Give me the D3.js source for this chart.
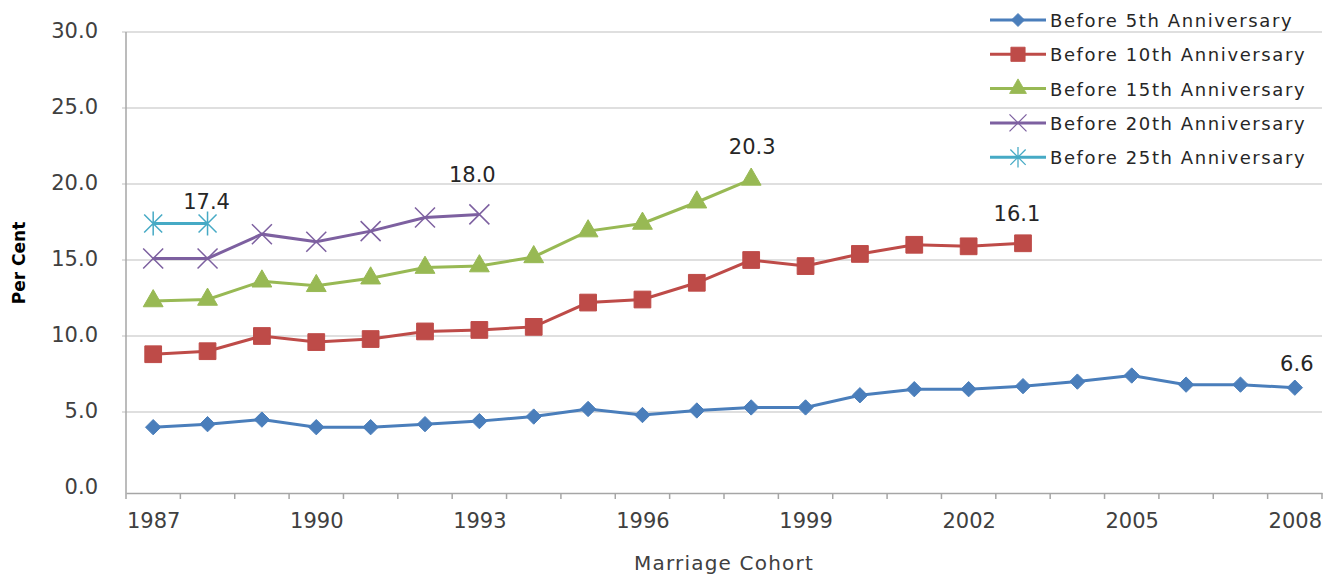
<!DOCTYPE html>
<html><head><meta charset="utf-8">
<script src="https://cdn.jsdelivr.net/npm/d3@7/dist/d3.min.js"></script>
<style>body{margin:0;background:#fff;} svg{display:block;}</style>
</head><body>
<svg id="c" width="1335" height="578"></svg>
<script>
const years = d3.range(1987, 2009).map(String);
const tickYears = ["1987","1990","1993","1996","1999","2002","2005","2008"];
const yTicks = [0,5,10,15,20,25,30];
const seriesNames = ["Before 5th Anniversary","Before 10th Anniversary","Before 15th Anniversary","Before 20th Anniversary","Before 25th Anniversary"];
const s5  = [4.0,4.2,4.5,4.0,4.0,4.2,4.4,4.7,5.2,4.8,5.1,5.3,5.3,6.1,6.5,6.5,6.7,7.0,7.4,6.8,6.8,6.6];
const s10 = [8.8,9.0,10.0,9.6,9.8,10.3,10.4,10.6,12.2,12.4,13.5,15.0,14.6,15.4,16.0,15.9,16.1];
const s15 = [12.3,12.4,13.6,13.3,13.8,14.5,14.6,15.2,16.9,17.4,18.8,20.3];
const s20 = [15.1,15.1,16.7,16.2,16.9,17.8,18.0];
const s25 = [17.4,17.4];
const endLabels = ["6.6","16.1","20.3","18.0","17.4"];
const colors = ["#4a7ebb","#be4b48","#98b954","#7d60a0","#46aac5"];
const markers = ["diamond","square","triangle","x","star"];
const allSeries = [s5,s10,s15,s20,s25];
// label placement (layout only): offsets from the last point
const labelDx = [2,-6,1,-7,-1];
const labelDy = [-17,-22,-25,-32,-15];

const svg = d3.select("#c");
const L=126, R=1322, T=32, B=488, AX=493;
const x = d3.scalePoint().domain(years).range([L,R]).padding(0.5);
const step = x.step();
const y = d3.scaleLinear().domain([0,30]).range([B,T]);
const font = "'DejaVu Sans', Verdana, sans-serif";

// gridlines
svg.append("g").selectAll("line").data(yTicks.filter(d=>d>0)).join("line")
  .attr("x1",L-4).attr("x2",R).attr("y1",d=>y(d)).attr("y2",d=>y(d))
  .attr("stroke","#d4d4d4").attr("stroke-width",1.5);
// y axis
const yAx = svg.append("g").attr("transform",`translate(${L},0)`)
  .call(d3.axisLeft(y).tickValues(yTicks).tickFormat(d3.format(".1f")).tickSize(0).tickPadding(28));
yAx.select(".domain").remove();
svg.append("line").attr("x1",L).attr("x2",L).attr("y1",T).attr("y2",AX)
  .attr("stroke","#a6a6a6").attr("stroke-width",1.5);
yAx.selectAll("text").attr("font-family",font).attr("font-size",21).attr("fill","#404040").attr("dy","0.28em");
// x axis
const xAx = svg.append("g").attr("transform",`translate(0,${AX})`)
  .call(d3.axisBottom(x).tickValues(tickYears).tickSize(0).tickPadding(20));
xAx.select(".domain").attr("stroke","#a6a6a6").attr("stroke-width",1.5);
xAx.selectAll("text").attr("font-family",font).attr("font-size",21).attr("fill","#404040");
const bounds = years.map(d=>x(d)-step/2).concat([R]);
svg.append("g").selectAll("line").data(bounds).join("line")
  .attr("x1",d=>d).attr("x2",d=>d).attr("y1",AX).attr("y2",AX+6)
  .attr("stroke","#a6a6a6").attr("stroke-width",1.5);

// axis titles
svg.append("text").attr("transform",`translate(25,${(T+B)/2+3}) rotate(-90)`)
  .attr("text-anchor","middle").attr("font-family",font).attr("font-weight","bold")
  .attr("font-size",17).attr("fill","#000").text("Per Cent");
svg.append("text").attr("x",(L+R)/2).attr("y",570).attr("text-anchor","middle")
  .attr("font-family",font).attr("font-size",20).attr("fill","#404040").attr("letter-spacing","1.2px").text("Marriage Cohort");

function markerPath(type){
  switch(type){
    case "diamond": return d3.symbol(d3.symbolDiamond2, 150)();
    case "square": return d3.symbol(d3.symbolSquare, 280)();
    case "triangle": return d3.symbol(d3.symbolTriangle, 170)();
    case "x": return "M-10,-10L10,10M-10,10L10,-10";
    case "star": return "M-9,-9L9,9M-9,9L9,-9M0,-12L0,12";
  }
}
function drawMarker(g, type, color){
  const p = g.append("path").attr("d", markerPath(type));
  if(type==="x"||type==="star") p.attr("fill","none").attr("stroke",color).attr("stroke-width",1.5);
  else p.attr("fill",color).attr("stroke",color).attr("stroke-width",1);
}

const line = d3.line().defined(d=>d.v!=null).x(d=>x(d.k)).y(d=>y(d.v));
allSeries.forEach((s,i)=>{
  const pts = s.map((v,j)=>({k:years[j],v}));
  const g = svg.append("g");
  g.append("path").datum(pts).attr("d",line).attr("fill","none")
    .attr("stroke",colors[i]).attr("stroke-width",3);
  pts.forEach(p=>{
    const mg = g.append("g").attr("transform",`translate(${x(p.k)},${y(p.v)})`);
    drawMarker(mg, markers[i], colors[i]);
  });
  const last = pts[pts.length-1];
  svg.append("text").attr("x",x(last.k)+labelDx[i]).attr("y",y(last.v)+labelDy[i])
    .attr("text-anchor","middle").attr("font-family",font).attr("font-size",21)
    .attr("fill","#262626").text(endLabels[i]);
});

// legend
const lg = svg.append("g");
seriesNames.forEach((n,i)=>{
  const yy = 20 + i*34.3;
  const g = lg.append("g").attr("transform",`translate(0,${yy})`);
  g.append("line").attr("x1",990).attr("x2",1046).attr("y1",0).attr("y2",0)
    .attr("stroke",colors[i]).attr("stroke-width",3);
  const mg = g.append("g").attr("transform","translate(1018,0) scale(0.85)");
  drawMarker(mg, markers[i], colors[i]);
  g.append("text").attr("x",1050).attr("y",7).attr("font-family",font).attr("font-size",18)
    .attr("fill","#262626").attr("letter-spacing","1.6px").text(n);
});
</script>
</body></html>
